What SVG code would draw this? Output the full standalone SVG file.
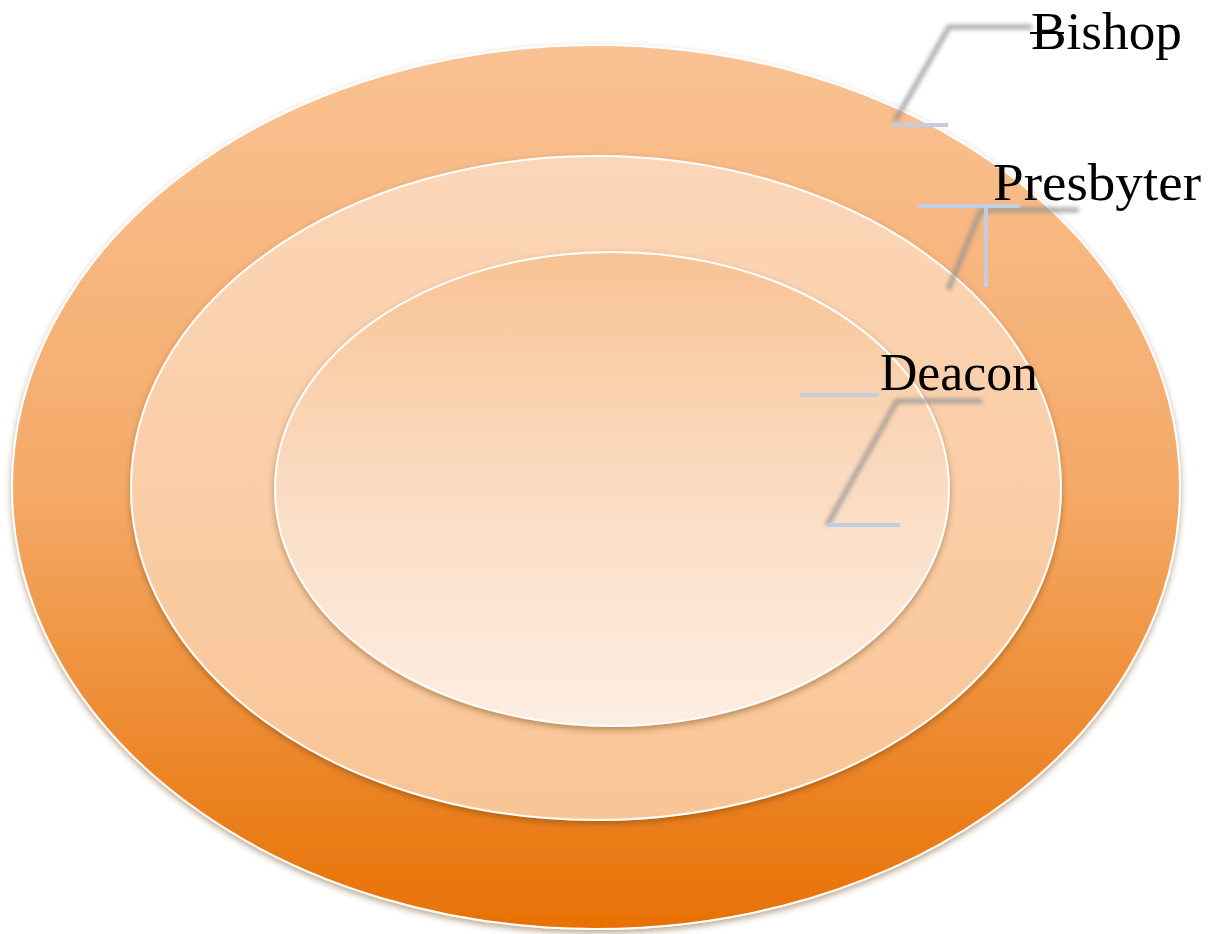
<svg xmlns="http://www.w3.org/2000/svg" width="1215" height="934" viewBox="0 0 1215 934">
  <defs>
    <linearGradient id="gOuter" x1="0" y1="0" x2="0" y2="1">
      <stop offset="0" stop-color="#F9C293"/>
      <stop offset="0.5" stop-color="#F4AA68"/>
      <stop offset="1" stop-color="#E87103"/>
    </linearGradient>
    <linearGradient id="gMiddle" x1="0" y1="0" x2="0" y2="1">
      <stop offset="0" stop-color="#FBD6B8"/>
      <stop offset="1" stop-color="#F9C595"/>
    </linearGradient>
    <linearGradient id="gInner" x1="0" y1="0" x2="0" y2="1">
      <stop offset="0" stop-color="#F8C394"/>
      <stop offset="0.5" stop-color="#FBDCC2"/>
      <stop offset="1" stop-color="#FDEEE2"/>
    </linearGradient>
    <filter id="ringShadow" x="-10%" y="-10%" width="120%" height="120%">
      <feDropShadow dx="0" dy="3" stdDeviation="3" flood-color="#6b3a10" flood-opacity="0.45"/>
    </filter>
    <filter id="soft" x="-20%" y="-20%" width="140%" height="140%">
      <feGaussianBlur stdDeviation="2.2"/>
    </filter>
  </defs>
  <style>
    .ring { stroke: #ffffff; stroke-width: 2; filter: url(#ringShadow); }
    .shadowLine { fill: none; stroke: #8f8f8f; stroke-width: 5; stroke-opacity: 0.75; filter: url(#soft); }
    .leader { fill: none; stroke: #C3CDE1; stroke-width: 4; }
    .label { font-family: "Liberation Serif", "DejaVu Serif", serif; font-size: 53px; fill: #000000; }
  </style>

  <g id="bishop-ring">
    <ellipse class="ring" cx="596" cy="487" rx="584" ry="442" fill="url(#gOuter)"/>
  </g>
  <g id="presbyter-ring">
    <ellipse class="ring" cx="596" cy="488" rx="465" ry="332" fill="url(#gMiddle)"/>
  </g>
  <g id="deacon-ring">
    <ellipse class="ring" cx="612" cy="489" rx="337" ry="237" fill="url(#gInner)"/>
  </g>

  <g id="connectors">
    <!-- soft elbow shadows -->
    <polyline class="shadowLine" points="895,121 949,27 1032,27"/>
    <polyline class="shadowLine" points="948,290 981,210 1079,210"/>
    <polyline class="shadowLine" points="827,525 897,401 982,401"/>
    <!-- visible leader strokes -->
    <line class="leader" x1="892" y1="125" x2="948" y2="125"/>
    <line class="leader" x1="918" y1="206" x2="1020" y2="206"/>
    <line class="leader" x1="986" y1="206" x2="986" y2="287"/>
    <line class="leader" x1="800" y1="395" x2="878" y2="395"/>
    <line class="leader" x1="827" y1="525" x2="900" y2="525"/>
    <line x1="1030" y1="33" x2="1064" y2="33" stroke="#000000" stroke-width="2"/>
  </g>

  <g id="label-bishop">
    <text class="label" x="1031" y="49" textLength="151" lengthAdjust="spacingAndGlyphs">Bishop</text>
  </g>
  <g id="label-presbyter">
    <text class="label" x="993" y="200" textLength="208" lengthAdjust="spacingAndGlyphs">Presbyter</text>
  </g>
  <g id="label-deacon">
    <text class="label" x="880" y="390" textLength="158" lengthAdjust="spacingAndGlyphs">Deacon</text>
  </g>
</svg>
